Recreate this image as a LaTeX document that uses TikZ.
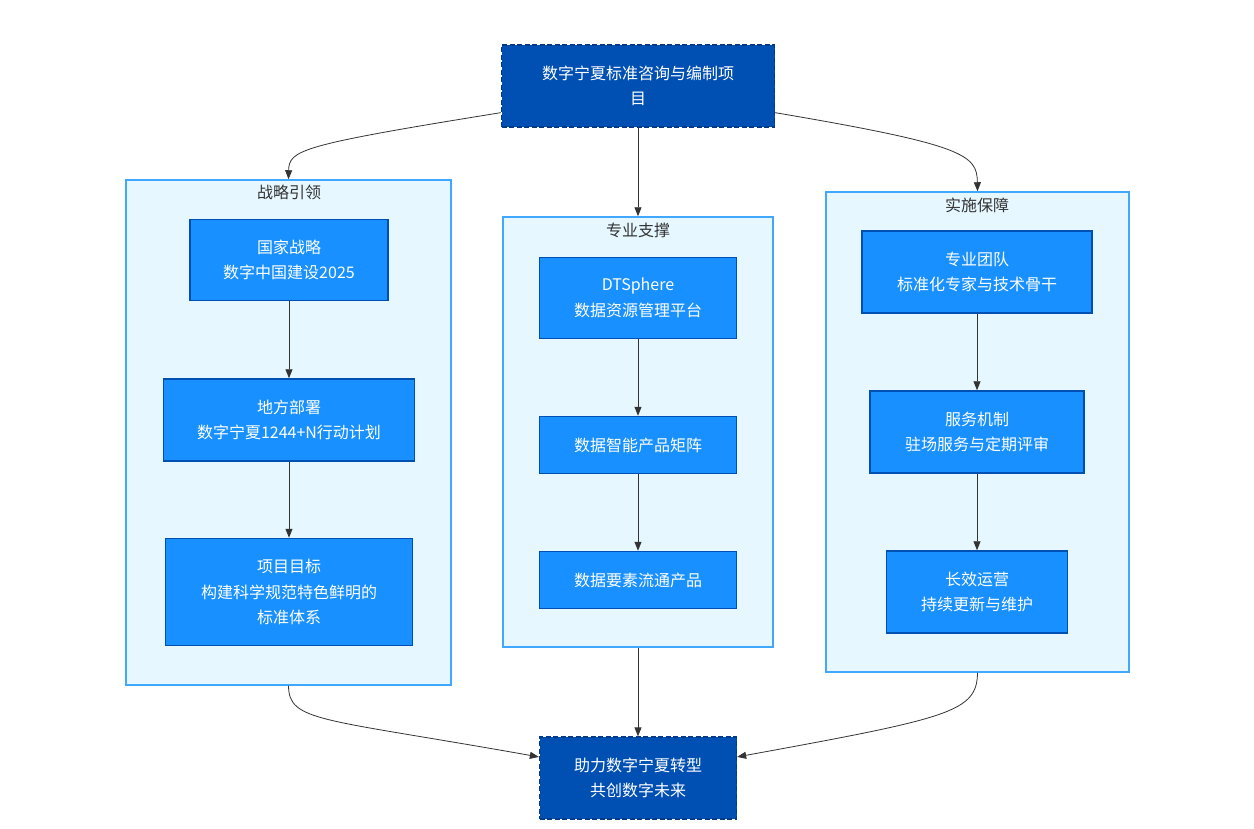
\documentclass[tikz,border=0pt]{standalone}
\usepackage{fontspec}
\setmainfont{Noto Sans CJK SC}
\usetikzlibrary{arrows.meta}
\definecolor{darkblue}{HTML}{0050B3}
\definecolor{darkline}{HTML}{003A8C}
\definecolor{midblue}{HTML}{1890FF}
\definecolor{paleblue}{HTML}{E6F7FF}
\definecolor{groupline}{HTML}{40A9FF}
\definecolor{arrowgray}{HTML}{333333}
\begin{document}
\begin{tikzpicture}[
            x=1pt, y=1pt,
            font=\fontsize{16}{25.5}\selectfont,
            term/.style={draw=darkline,fill=darkblue,dash pattern=on 5pt off 2.5pt,line width=1.3pt,text=white,align=center,inner sep=0pt},
            s/.style={draw=darkblue,fill=midblue,line width=1.5pt,text=white,align=center,inner sep=0pt},
            grp/.style={draw=groupline,fill=paleblue,line width=1.5pt,inner sep=0pt},
            ttl/.style={text=arrowgray},
            arr/.style={-{Triangle[length=9pt,width=7pt]},draw=arrowgray,line width=0.8pt}
        ]

        \useasboundingbox (0,0) rectangle (1254,-828);

        % groups
        \node[grp,minimum width=325,minimum height=505] (g1) at (288.5,-432.5) {};
        \node[grp,minimum width=270,minimum height=430] (g2) at (638,-432) {};
        \node[grp,minimum width=303,minimum height=480] (g3) at (977.5,-432) {};
        \node[ttl] (t1) at (289,-192) {战略引领};
        \node[ttl] (t2) at (638,-230) {专业支撑};
        \node[ttl] (t3) at (977,-205) {实施保障};

        \node[term,minimum width=273,minimum height=82] (top) at (638,-86) {数字宁夏标准咨询与编制项\\目};
        \node[term,minimum width=197,minimum height=82] (bot) at (638,-778) {助力数字宁夏转型\\共创数字未来};

        \node[s,minimum width=198,minimum height=81] (nat) at (289,-260) {国家战略\\数字中国建设2025};
        \node[s,minimum width=251,minimum height=82] (loc) at (289,-420) {地方部署\\数字宁夏1244+N行动计划};
        \node[s,minimum width=247,minimum height=107] (goal) at (289,-592) {项目目标\\构建科学规范特色鲜明的\\标准体系};

        \node[s,minimum width=197,minimum height=81] (dts) at (638,-298) {DTSphere\\数据资源管理平台};
        \node[s,minimum width=197,minimum height=57] (prod) at (638,-445) {数据智能产品矩阵};
        \node[s,minimum width=197,minimum height=57] (flow) at (638,-580) {数据要素流通产品};

        \node[s,minimum width=230,minimum height=82] (team) at (977,-272) {专业团队\\标准化专家与技术骨干};
        \node[s,minimum width=214,minimum height=82] (serv) at (977,-432) {服务机制\\驻场服务与定期评审};
        \node[s,minimum width=181,minimum height=82] (ops) at (977,-592) {长效运营\\持续更新与维护};

        \draw[arr] (top.191) .. controls (300,-145) and (289,-150) .. (g1.north);
        \draw[arr] (top.south) -- (g2.north);
        \draw[arr] (top.349) .. controls (966,-145) and (977,-155) .. (g3.north);

        \draw[arr] (nat) -- (loc);
        \draw[arr] (loc) -- (goal);
        \draw[arr] (dts) -- (prod);
        \draw[arr] (prod) -- (flow);
        \draw[arr] (team) -- (serv);
        \draw[arr] (serv) -- (ops);

        \draw[arr] (g1.south) .. controls (289,-722) and (320,-718) .. (bot.168);
        \draw[arr] (g2.south) -- (bot.north);
        \draw[arr] (g3.south) .. controls (977,-712) and (950,-718) .. (bot.12);

\end{tikzpicture}
\end{document}
